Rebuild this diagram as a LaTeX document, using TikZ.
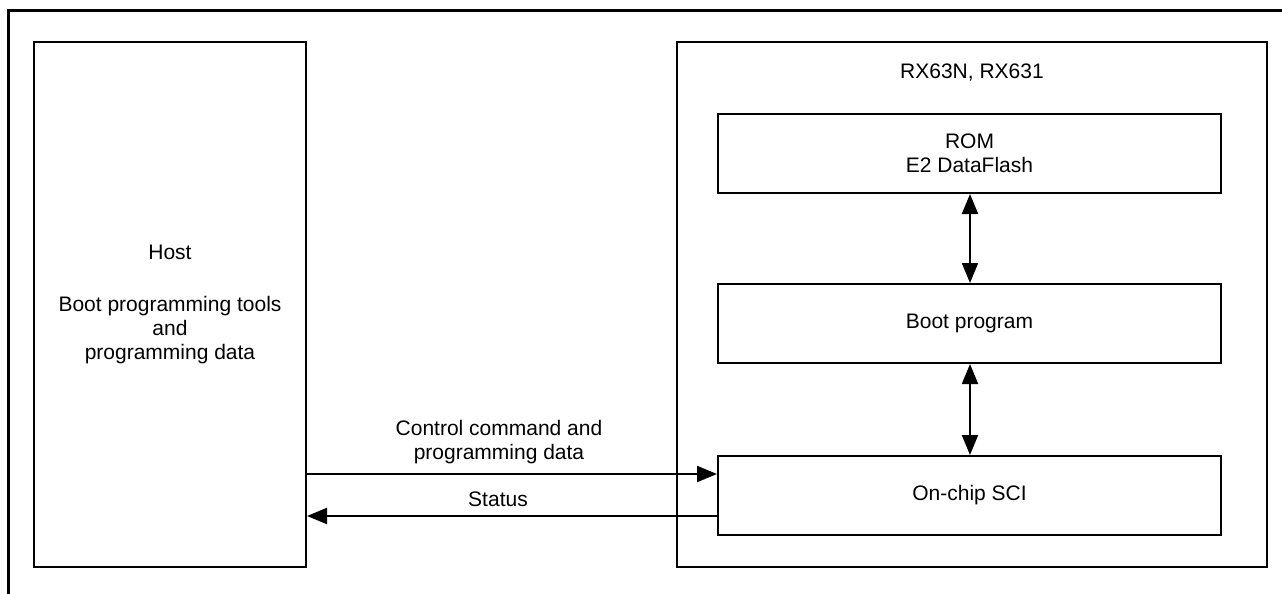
\documentclass[tikz,border=0pt]{standalone}
\usepackage{fontspec}
\setmainfont{Liberation Sans}
\usetikzlibrary{arrows.meta}

\tikzset{
  blk/.style={draw, line width=1pt, inner sep=0pt, align=center},
  txt/.style={inner sep=0pt, align=center},
  link/.style={line width=1pt, -{Triangle[length=10pt,width=8pt]}},
  dlink/.style={line width=1pt, {Triangle[length=10pt,width=8pt]}-{Triangle[length=10pt,width=8pt]}},
}

\begin{document}
\begin{tikzpicture}[x=0.5pt,y=-0.5pt,font=\fontsize{10.5}{12}\selectfont]
\useasboundingbox (0,0) rectangle (1282,594);
\draw[line width=1.5pt] (1282,10) -- (8,10) -- (8,594);

\node[blk, minimum width=136pt, minimum height=262.5pt] (host) at (170,304.5)
  {Host\\[14pt]Boot programming tools\\and\\programming data};

\node[blk, minimum width=295pt, minimum height=262.5pt] (chip) at (972,304.5) {};
\node[txt] (chiptitle) at (972,73) {RX63N, RX631};

\node[blk, minimum width=251.5pt, minimum height=39.5pt] (rom) at (969.5,153.5) {ROM\\E2 DataFlash};
\node[blk, minimum width=251.5pt, minimum height=39.5pt] (boot) at (969.5,323.5) {Boot program};
\node[blk, minimum width=251.5pt, minimum height=39.5pt] (sci) at (969.5,495.5) {On-chip SCI};

\draw[dlink] ([xshift=0.25pt]rom.south) -- ([xshift=0.25pt]boot.north);
\draw[dlink] ([xshift=0.25pt]boot.south) -- ([xshift=0.25pt]sci.north);

\coordinate (cmd) at ([yshift=-9.5pt]sci.north west);
\coordinate (stat) at ([yshift=10pt]sci.south west);
\draw[link] (host.east |- cmd) -- (cmd);
\draw[link] (stat) -- (host.east |- stat);

\node[txt] (cmdlabel) at (499,442) {Control command and\\programming data};
\node[txt] (statlabel) at (498,499) {Status};
\end{tikzpicture}
\end{document}
